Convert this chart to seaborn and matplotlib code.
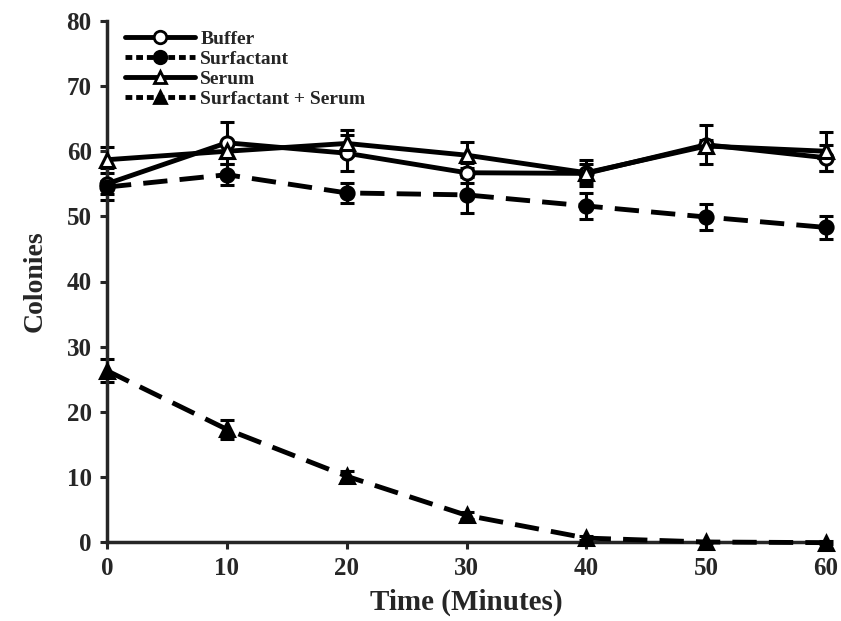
import numpy as np
import pandas as pd
import matplotlib
matplotlib.use("Agg")
import matplotlib.pyplot as plt
import seaborn as sns
from matplotlib.lines import Line2D

time = [0, 10, 20, 30, 40, 50, 60]
groups = ["Buffer", "Surfactant", "Serum", "Surfactant + Serum"]
buffer_vals = [55.0, 61.3, 59.7, 56.7, 56.6, 61.0, 59.0]
buffer_err = [2.5, 3.2, 2.8, 1.5, 1.5, 3.0, 2.0]
surf_vals = [54.5, 56.4, 53.6, 53.3, 51.6, 49.9, 48.3]
surf_err = [1.0, 1.6, 1.5, 2.8, 2.0, 2.0, 1.8]
serum_vals = [58.7, 60.0, 61.2, 59.4, 56.7, 60.8, 60.0]
serum_err = [2.0, 1.0, 2.0, 2.0, 2.0, 1.0, 3.0]
ss_vals = [26.3, 17.3, 10.1, 4.1, 0.6, 0.0, -0.1]
ss_err = [1.8, 1.5, 0.8, 0.5, 0.3, 0.2, 0.2]

vals = {"Buffer": buffer_vals, "Surfactant": surf_vals, "Serum": serum_vals,
        "Surfactant + Serum": ss_vals}
errs = {"Buffer": buffer_err, "Surfactant": surf_err, "Serum": serum_err,
        "Surfactant + Serum": ss_err}

rows = []
for g in groups:
    for t, v in zip(time, vals[g]):
        rows.append({"Time": t, "Colonies": v, "Group": g})
df = pd.DataFrame(rows)

sns.set_theme(style="ticks")
plt.rcParams["font.family"] = ["Liberation Serif", "DejaVu Serif"]
plt.rcParams["font.weight"] = "bold"

fig = plt.figure(figsize=(8.41, 6.21), dpi=100)
ax = fig.add_axes([107 / 841, 1 - 542 / 621, (826 - 107) / 841, (542 - 21) / 621])

markers = {"Buffer": "o", "Surfactant": "o", "Serum": "^", "Surfactant + Serum": "^"}
dashes = {"Buffer": "", "Surfactant": (5, 2.5), "Serum": "", "Surfactant + Serum": (5, 2.5)}
palette = {g: "black" for g in groups}
facec = {"Buffer": "white", "Surfactant": "black", "Serum": "white", "Surfactant + Serum": "black"}

for g in groups:
    ax.errorbar(time, vals[g], yerr=errs[g], fmt="none", ecolor="black",
                elinewidth=2.2, capsize=5, capthick=2.2, zorder=2)

sns.lineplot(data=df, x="Time", y="Colonies", hue="Group", style="Group",
             palette=palette, markers=markers, dashes=dashes, ax=ax,
             linewidth=3.5, markersize=9.5, legend=False, zorder=3)

for line, g in zip(ax.get_lines()[-4:], groups):
    line.set_markerfacecolor(facec[g])
    line.set_markeredgecolor("black")
    line.set_markeredgewidth(2.2)

handles = []
for g in groups:
    ls = "-" if dashes[g] == "" else (0, (1.4, 0.8))
    handles.append(Line2D([], [], color="black", lw=3.5, linestyle=ls,
                          marker=markers[g], markersize=9,
                          markerfacecolor=facec[g], markeredgecolor="black",
                          markeredgewidth=2))
leg = ax.legend(handles, groups, loc="upper left", bbox_to_anchor=(0.0, 1.015),
                frameon=False, handlelength=3.6, handletextpad=0.3,
                labelspacing=0.12, prop={"weight": "bold", "size": 14})

ax.set_xlim(0, 60)
ax.set_ylim(0, 80)
ax.set_xticks(time)
ax.set_yticks(range(0, 81, 10))
ax.set_xlabel("Time (Minutes)", fontsize=21, fontweight="bold", labelpad=6)
ax.set_ylabel("Colonies", fontsize=20, fontweight="bold", labelpad=14)
ax.tick_params(axis="both", labelsize=18, width=2.2, length=5, pad=6)
for lab in ax.get_xticklabels() + ax.get_yticklabels():
    lab.set_fontweight("bold")
sns.despine(ax=ax)
for s in ["left", "bottom"]:
    ax.spines[s].set_linewidth(2.5)
for line in ax.get_lines():
    line.set_clip_on(False)
for c in ax.collections:
    c.set_clip_on(False)

fig.savefig("out.png", dpi=100)
